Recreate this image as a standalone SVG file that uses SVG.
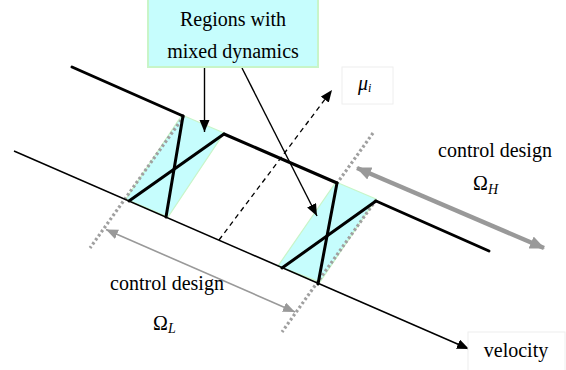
<svg xmlns="http://www.w3.org/2000/svg" width="566" height="370" viewBox="0 0 566 370">
<style>
text{font-family:'Liberation Serif','Times New Roman',serif;font-size:20px;fill:#000}
.reg{fill:#c6fdfd;stroke:#c8f5c8;stroke-width:1.2}
.thick{stroke:#000;stroke-width:3;fill:none;stroke-linecap:round}
.dot{stroke:#a0a0a0;stroke-width:3.2;stroke-dasharray:2.6 2.4;fill:none}
.thin{stroke:#000;stroke-width:1.5;fill:none}
</style>
<defs>
<marker id="ab" markerUnits="userSpaceOnUse" markerWidth="14" markerHeight="12" refX="12" refY="5" orient="auto"><path d="M0,0 L12,5 L0,10 z" fill="#000"/></marker>
<marker id="ag" markerUnits="userSpaceOnUse" markerWidth="18" markerHeight="16" refX="14" refY="6.5" orient="auto-start-reverse"><path d="M0,0 L15,6.5 L0,13 z" fill="#999"/></marker>
<marker id="agt" markerUnits="userSpaceOnUse" markerWidth="14" markerHeight="12" refX="12" refY="5" orient="auto-start-reverse"><path d="M0,0 L12,5 L0,10 z" fill="#999"/></marker>
</defs>
<g id="regions">
<polygon class="reg" points="182,115 224,133 168,217 126,199"/>
<polygon class="reg" points="336,182 376,199 320,282 278,266"/>
</g>
<g id="boundaries">
<line class="dot" x1="184" y1="116" x2="90" y2="248"/>
<line class="dot" x1="373" y1="133" x2="338" y2="182"/>
<line class="dot" x1="376" y1="200" x2="282" y2="332"/>
</g>
<g id="curve">
<line class="thick" x1="72" y1="67" x2="183" y2="116"/>
<line class="thick" x1="224" y1="134" x2="337" y2="183"/>
<line class="thick" x1="376" y1="201" x2="489" y2="251"/>
<line class="thick" x1="183" y1="116" x2="166" y2="217"/>
<line class="thick" x1="129" y1="201" x2="224" y2="134"/>
<line class="thick" x1="337" y1="183" x2="318" y2="284"/>
<line class="thick" x1="282" y1="268" x2="376" y2="201"/>
</g>
<g id="connectors">
<line class="thin" x1="14" y1="151" x2="469" y2="349" marker-end="url(#ab)"/>
<line stroke="#000" stroke-width="1.3" stroke-dasharray="5 4" x1="219" y1="240" x2="332" y2="90" marker-end="url(#ab)"/>
<line stroke="#000" stroke-width="1.4" x1="204.5" y1="67" x2="204.5" y2="132" marker-end="url(#ab)"/>
<line stroke="#000" stroke-width="1.4" x1="242" y1="68" x2="317" y2="216" marker-end="url(#ab)"/>
<line stroke="#999" stroke-width="4.5" x1="357" y1="168" x2="544" y2="248" marker-start="url(#ag)" marker-end="url(#ag)"/>
<line stroke="#999" stroke-width="1.6" x1="106" y1="229.5" x2="295" y2="312" marker-start="url(#agt)" marker-end="url(#agt)"/>
</g>
<g id="label-box">
<rect x="148" y="-1" width="170" height="68" fill="#c6fdfd" stroke="#c8f5c8" stroke-width="2"/>
<text x="233" y="26" text-anchor="middle">Regions with</text>
<text x="233" y="58" text-anchor="middle">mixed dynamics</text>
</g>
<g id="mu-label">
<rect x="342" y="67" width="51" height="37" fill="#fff" stroke="#eeeeee"/>
<text x="358" y="90" font-style="italic" font-size="18">μ<tspan font-size="12" dy="2">i</tspan></text>
</g>
<g id="velocity-label">
<rect x="468" y="332" width="97" height="40" fill="#fff" stroke="#eeeeee"/>
<text x="516" y="357" text-anchor="middle">velocity</text>
</g>
<g id="omega-h">
<text x="495" y="157" text-anchor="middle">control design</text>
<text x="473" y="190" font-size="18">Ω<tspan font-style="italic" font-size="14" dy="4">H</tspan></text>
</g>
<g id="omega-l">
<text x="167" y="290" text-anchor="middle">control design</text>
<text x="153" y="330" font-size="18">Ω<tspan font-style="italic" font-size="14" dy="3">L</tspan></text>
</g>
</svg>
